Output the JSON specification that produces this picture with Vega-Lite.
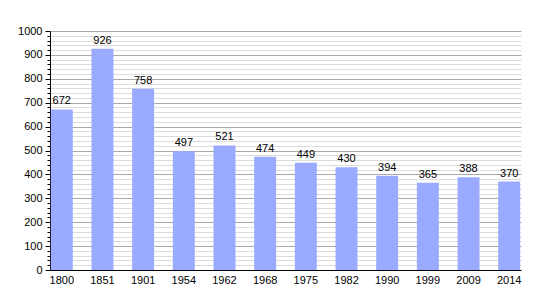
{
  "$schema": "https://vega.github.io/schema/vega-lite/v6.json",
  "autosize": "none",
  "width": 471,
  "height": 239,
  "padding": {"left": 50, "top": 31, "right": 29, "bottom": 30},
  "background": "white",
  "data": {"values": [
    {"year": "1800", "pop": 672},
    {"year": "1851", "pop": 926},
    {"year": "1901", "pop": 758},
    {"year": "1954", "pop": 497},
    {"year": "1962", "pop": 521},
    {"year": "1968", "pop": 474},
    {"year": "1975", "pop": 449},
    {"year": "1982", "pop": 430},
    {"year": "1990", "pop": 394},
    {"year": "1999", "pop": 365},
    {"year": "2009", "pop": 388},
    {"year": "2014", "pop": 370}
  ]},
  "config": {
    "view": {"stroke": null},
    "font": "Liberation Sans",
    "axis": {"labelFont": "Liberation Sans", "labelFontSize": 11, "labelColor": "black", "domainColor": "black", "tickColor": "black"}
  },
  "encoding": {
    "x": {"field": "year", "type": "ordinal", "sort": null,
      "scale": {"paddingInner": 0.46, "paddingOuter": 0.02},
      "axis": {"title": null, "labelAngle": 0, "ticks": false, "labelPadding": 4, "domainWidth": 1}},
    "y": {"field": "pop", "type": "quantitative",
      "scale": {"domain": [0, 1000], "nice": false},
      "axis": {"title": null, "format": "d",
        "values": [0,20,40,60,80,100,120,140,160,180,200,220,240,260,280,300,320,340,360,380,400,420,440,460,480,500,520,540,560,580,600,620,640,660,680,700,720,740,760,780,800,820,840,860,880,900,920,940,960,980,1000],
        "labelExpr": "datum.value % 100 === 0 ? datum.label : ''",
        "tickSize": {"condition": {"test": "datum.value % 100 === 0", "value": 5}, "value": 3},
        "grid": true,
        "gridColor": {"condition": {"test": "datum.value % 100 === 0", "value": "#a8a8a8"}, "value": "#dcdcdc"},
        "labelPadding": 3}}
  },
  "layer": [
    {"mark": {"type": "bar", "color": "#99aaff"}},
    {"mark": {"type": "text", "dy": -8, "fontSize": 11, "color": "black", "font": "Liberation Sans"},
     "encoding": {"text": {"field": "pop", "type": "quantitative"}}}
  ]
}
